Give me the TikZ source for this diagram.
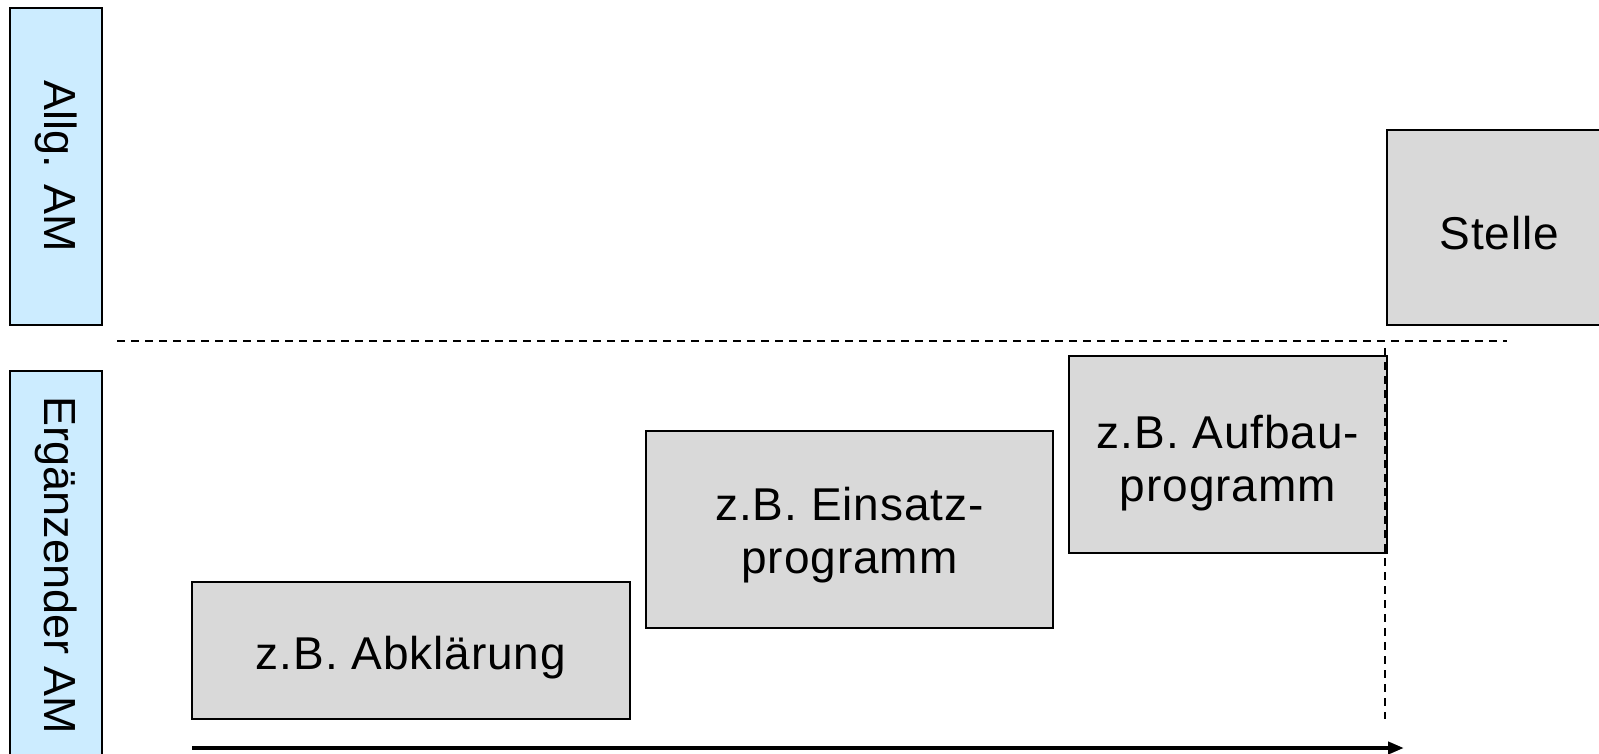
\documentclass[tikz,border=0pt]{standalone}
\usepackage{fontspec}
\setmainfont{Liberation Sans}
\newfontfamily\boxfont[LetterSpace=2]{Liberation Sans}
\usetikzlibrary{arrows.meta}
\definecolor{boxgray}{HTML}{D9D9D9}
\definecolor{sideblue}{HTML}{CCECFF}
\begin{document}
\begin{tikzpicture}[x=1pt,y=-1pt,
  box/.style={draw=black, line width=1.5pt, fill=boxgray, inner sep=0pt, align=center,
    font=\boxfont\fontsize{46}{53}\selectfont},
  side/.style={draw=black, line width=1.5pt, fill=sideblue, inner sep=0pt,
    minimum width=92pt, font=\fontsize{45}{54}\selectfont},
  sep/.style={line width=1.4pt, dash pattern=on 8pt off 6pt},
  timeline/.style={line width=4.5pt, -{Triangle[length=16pt,width=12pt]}}]
\useasboundingbox (0,0) rectangle (1599,754);
% side labels
\node[side, minimum height=317pt] (allg) at (56,166.5) {\rotatebox{-90}{Allg. AM}};
\node[side, minimum height=389pt] (erg) at (56,565.5) {\rotatebox{-90}{Ergänzender AM}};
% boxes
\node[box, minimum width=438pt, minimum height=137pt, text height=48pt] (abk) at (411,650.5) {z.B. Abklärung};
\node[box, minimum width=407pt, minimum height=197pt, text height=97pt] (eins) at (849.5,529.5) {z.B. Einsatz-\\programm};
\node[box, minimum width=318pt, minimum height=197pt, text height=103pt] (aufb) at (1228,454.5) {z.B. Aufbau-\\programm};
\node[box, minimum width=225pt, minimum height=195pt, text width=225pt, text height=44pt] (stelle) at (1499.5,227.5) {Stelle};
% separators
\coordinate (hl) at (117,341);
\coordinate (hr) at (1507,341);
\draw[sep] (hl) -- (hr);
\coordinate (vt) at (1385,348);
\coordinate (vb) at (1385,719);
\draw[sep] (vt) -- (vb);
% time arrow
\coordinate (as) at (192,748);
\coordinate (ae) at (1404,748);
\draw[timeline] (as) -- (ae);
\end{tikzpicture}
\end{document}
